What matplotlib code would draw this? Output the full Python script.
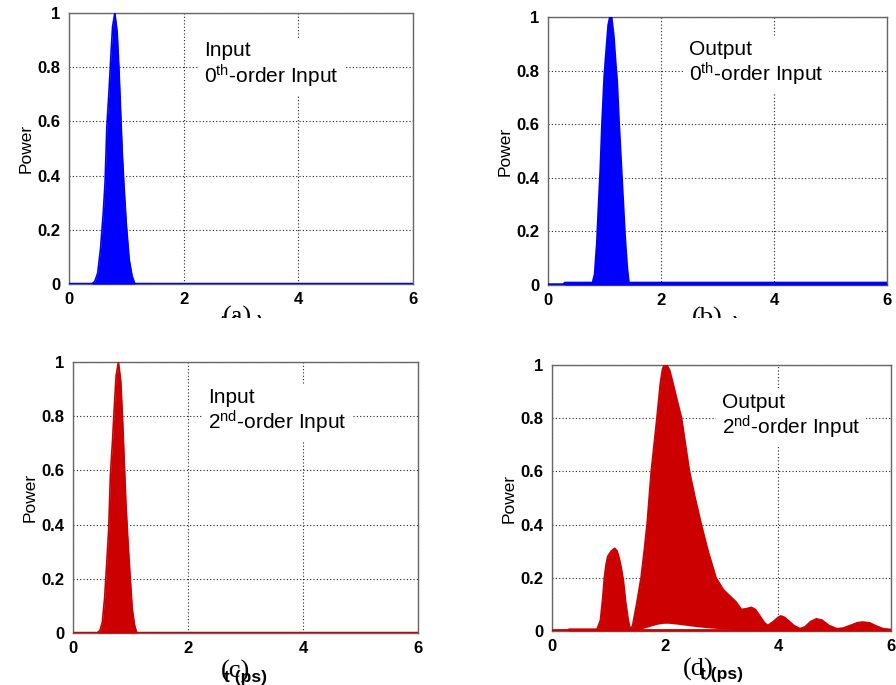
import matplotlib
matplotlib.use('Agg')
import matplotlib.pyplot as plt
from matplotlib.patches import Rectangle

plt.rcParams['font.family'] = ['Liberation Sans', 'DejaVu Sans']
plt.rcParams['mathtext.default'] = 'regular'

# pulse envelopes (t in ps, normalised power)
a_t = [0, 0.40, 0.45, 0.50, 0.55, 0.60, 0.63, 0.66, 0.70, 0.73, 0.76, 0.80,
       0.84, 0.87, 0.90, 0.93, 0.96, 1.00, 1.05, 1.10, 1.15, 6]
a_p = [0, 0, 0.01, 0.04, 0.13, 0.27, 0.38, 0.58, 0.72, 0.84, 0.95, 1.0,
       0.93, 0.80, 0.64, 0.48, 0.36, 0.22, 0.09, 0.03, 0, 0]

b_t = [0, 0.30, 0.30, 0.80, 0.84, 0.88, 0.91, 0.94, 0.97, 1.01, 1.05, 1.08,
       1.11, 1.15, 1.18, 1.21, 1.24, 1.27, 1.31, 1.35, 1.39, 1.42, 6]
b_p = [0, 0, 0.006, 0.006, 0.04, 0.16, 0.30, 0.43, 0.60, 0.78, 0.89, 0.97,
       1.0, 0.93, 0.84, 0.76, 0.62, 0.50, 0.34, 0.18, 0.06, 0.006, 0.006]

c_t = [0, 0.42, 0.47, 0.51, 0.55, 0.59, 0.62, 0.65, 0.69, 0.72, 0.75, 0.79,
       0.83, 0.86, 0.89, 0.92, 0.95, 0.99, 1.03, 1.07, 1.11, 6]
c_p = [0, 0, 0.01, 0.04, 0.13, 0.27, 0.38, 0.58, 0.72, 0.84, 0.95, 1.0,
       0.93, 0.80, 0.64, 0.48, 0.36, 0.22, 0.09, 0.03, 0, 0]

# output of the 2nd-order pulse: upper envelope
d_t = [0, 0.15, 0.30, 0.30, 0.80, 0.86, 0.90, 0.93, 0.96, 0.99, 1.05, 1.11,
       1.15, 1.19, 1.22, 1.26, 1.30, 1.34, 1.37, 1.40, 1.43, 1.50, 1.58, 1.64,
       1.69, 1.73, 1.76, 1.81, 1.86, 1.92, 1.96, 1.99, 2.03, 2.08, 2.14, 2.22,
       2.29, 2.36, 2.43, 2.53, 2.64, 2.76, 2.90, 3.03, 3.15, 3.25, 3.35, 3.44,
       3.53, 3.60, 3.68, 3.76, 3.82, 3.92, 4.00, 4.05, 4.12, 4.20, 4.28, 4.39,
       4.48, 4.58, 4.68, 4.78, 4.90, 5.04, 5.15, 5.28, 5.40, 5.50, 5.62, 5.74,
       5.86, 6.0]
d_p = [0, 0, 0, 0.006, 0.006, 0.04, 0.12, 0.20, 0.25, 0.28, 0.30, 0.31,
       0.30, 0.27, 0.24, 0.19, 0.11, 0.05, 0.015, 0.01, 0.02, 0.10, 0.20, 0.31,
       0.41, 0.52, 0.60, 0.70, 0.80, 0.93, 0.985, 1.0, 1.0, 0.98, 0.93, 0.86,
       0.80, 0.70, 0.60, 0.50, 0.40, 0.30, 0.20, 0.155, 0.13, 0.11, 0.08, 0.083,
       0.088, 0.08, 0.055, 0.03, 0.02, 0.035, 0.05, 0.056, 0.05, 0.035, 0.02, 0.008,
       0.015, 0.035, 0.045, 0.04, 0.02, 0.008, 0.01, 0.02, 0.03, 0.033, 0.03, 0.018,
       0.008, 0.005]

# white gap at the bottom of the main lobe
dl_t = [1.48, 1.58, 1.66, 1.74, 1.82, 1.90, 1.98, 2.06, 2.16, 2.28, 2.42,
        2.58, 2.76, 2.96, 3.16, 3.40, 3.65]
dl_p = [0.004, 0.008, 0.013, 0.018, 0.023, 0.027, 0.029, 0.029, 0.027, 0.024,
        0.02, 0.016, 0.012, 0.009, 0.007, 0.005, 0.004]

BLUE = '#0000ff'
RED = '#cc0000'

W, H = 896, 685
fig = plt.figure(figsize=(W / 100, H / 100), dpi=100)


def make_ax(l, r, t, b):
    return fig.add_axes([l / W, (H - b) / H, (r - l) / W, (b - t) / H])


def finish(ax, note, tx, ty):
    ax.set_xlim(0, 6)
    ax.set_ylim(0, 1)
    ax.set_xticks([0, 2, 4, 6])
    ax.set_yticks([0, 0.2, 0.4, 0.6, 0.8, 1])
    ax.set_yticklabels(['0', '0.2', '0.4', '0.6', '0.8', '1'])
    ax.tick_params(length=0, labelsize=12, pad=6)
    for lab in ax.get_xticklabels() + ax.get_yticklabels():
        lab.set_fontweight('bold')
    ax.grid(True, color='#222222', linestyle=(0, (1, 2)), linewidth=0.8)
    ax.set_axisbelow(True)
    for s in ax.spines.values():
        s.set_color('#666666')
        s.set_linewidth(1.0)
    ax.set_ylabel('Power', fontsize=12.5, labelpad=3)
    ax.text(tx, ty, note, fontsize=15, va='top', linespacing=1.1, zorder=5,
            bbox=dict(facecolor='white', edgecolor='none', pad=4))


# (a)
ax1 = make_ax(69, 413, 13, 284)
ax1.fill_between(a_t, 0, a_p, color=BLUE, lw=0, zorder=3)
ax1.plot(a_t, a_p, color=BLUE, lw=1.2, zorder=3)
ax1.plot([0, 6], [0, 0], color=BLUE, lw=2.5, zorder=3)
finish(ax1, 'Input\n0$^{th}$-order Input', 2.35, 0.895)

# (b)
ax2 = make_ax(548, 887, 17, 285)
ax2.fill_between(b_t, 0, b_p, color=BLUE, lw=0, zorder=3)
ax2.plot(b_t, b_p, color=BLUE, lw=2.5, zorder=3)
finish(ax2, 'Output\n0$^{th}$-order Input', 2.49, 0.915)

# (c)
ax3 = make_ax(73, 418, 362, 633)
ax3.fill_between(c_t, 0, c_p, color=RED, lw=0, zorder=3)
ax3.plot(c_t, c_p, color=RED, lw=1.2, zorder=3)
ax3.plot([0, 6], [0, 0], color=RED, lw=2.5, zorder=3)
finish(ax3, 'Input\n2$^{nd}$-order Input', 2.35, 0.905)

# (d)
ax4 = make_ax(552, 891, 365, 631)
ax4.fill_between(d_t, 0, d_p, color=RED, lw=0, zorder=3)
ax4.plot(d_t, d_p, color=RED, lw=1.5, zorder=3)
ax4.fill_between(dl_t, 0.006, dl_p, color='white', lw=0, zorder=3)
ax4.plot([0, 6], [0.003, 0.003], color=RED, lw=2, zorder=3)
finish(ax4, 'Output\n2$^{nd}$-order Input', 3.0, 0.895)

# x labels overlapped by the panel letters
for ax, letter, dx, dy in [(ax1, '(a)', -0.01, -0.08), (ax2, '(b)', -0.03, -0.08),
                           (ax3, '(c)', -0.03, -0.10), (ax4, '(d)', -0.07, -0.10)]:
    ax.text(0.5, dy - 0.035, 't (ps)', transform=ax.transAxes, ha='center',
            va='top', fontsize=12.5, fontweight='bold')
    ax.text(0.5 + dx, dy, letter, transform=ax.transAxes, ha='center',
            va='top', fontsize=19, family=['Liberation Serif', 'DejaVu Serif'])

# the top row labels are cut off in the original
fig.patches.append(Rectangle((0, (H - 342) / H), 1, (342 - 318) / H,
                             transform=fig.transFigure, facecolor='white',
                             edgecolor='none', zorder=10))

plt.savefig('out.png', dpi=100)
